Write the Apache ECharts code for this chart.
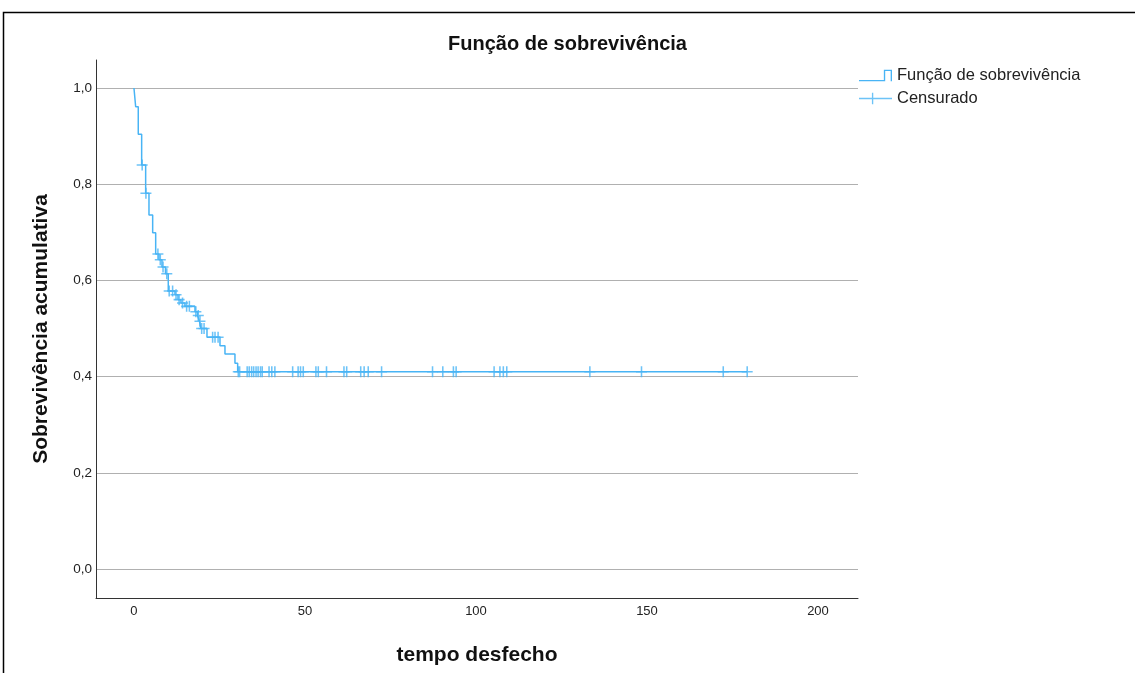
<!DOCTYPE html>
<html>
<head>
<meta charset="utf-8">
<script src="https://cdn.jsdelivr.net/npm/echarts@6/dist/echarts.min.js"></script>
<style>
html,body{margin:0;padding:0;background:#fff;}
#chart{width:1135px;height:673px;}
</style>
</head>
<body>
<div id="chart"></div>
<script>
// ---- data ----
const titleText = 'Função de sobrevivência';
const xAxisName = 'tempo desfecho';
const yAxisName = 'Sobrevivência acumulativa';
const legendNames = ['Função de sobrevivência', 'Censurado'];

// event times at which the survival curve drops, and the survival value after the drop
const stepTimes = [0, 0.5, 1.26, 2.25, 3.42, 4.39, 5.47, 6.35, 7.31, 8.19, 9.21, 10.03, 11.99, 12.87, 13.74, 14.91, 17.84, 18.57, 19.15, 19.59, 21.35, 25.15, 26.61, 29.53, 30.32];
const stepSurvival = [1.0, 0.961, 0.904, 0.840, 0.781, 0.736, 0.699, 0.655, 0.643, 0.628, 0.614, 0.578, 0.570, 0.560, 0.553, 0.546, 0.535, 0.527, 0.515, 0.500, 0.482, 0.464, 0.447, 0.428, 0.410];

// censored observation times
const censorTimes = [2.4, 3.5, 7.0, 7.7, 8.5, 9.6, 10.3, 11.3, 12.3, 13.2, 14.2, 15.4, 16.2, 18.1, 18.8, 19.3, 19.8, 20.5, 23.0, 23.7, 24.6,
  30.5, 30.9, 33.1, 33.7, 34.4, 35.0, 35.7, 36.3, 37.0, 37.5, 39.5, 40.3, 41.2, 46.4, 48.0, 48.7, 49.5, 53.2, 53.9, 56.3,
  61.4, 62.2, 66.3, 67.3, 68.5, 72.4, 87.3, 90.3, 93.4, 94.2, 105.3, 107.0, 108.0, 109.0, 133.3, 148.4, 172.3, 179.3];

const xTicks = [0, 50, 100, 150, 200];
const yTicks = [0, 0.2, 0.4, 0.6, 0.8, 1.0];

// ---- build series data ----
function survivalAt(t) {
  let s = stepSurvival[0];
  for (let i = 0; i < stepTimes.length; i++) { if (stepTimes[i] <= t) s = stepSurvival[i]; }
  return s;
}
const lastTime = censorTimes[censorTimes.length - 1];
const lineData = stepTimes.map((t, i) => [t, stepSurvival[i]]);
lineData.push([lastTime, survivalAt(lastTime)]);
const censorData = censorTimes.map(t => [t, survivalAt(t)]);

const blue = '#48b4f5';
const font = '"Liberation Sans", Arial, sans-serif';
const plusPath = 'path://M0,4.3h10v1.4h-10z M4.3,0h1.4v10h-1.4z';
const stepIcon = 'path://M0,10.5h27v1.4h-27z M25.6,0h1.4v11.9h-1.4z M25.6,0h8.4v1.4h-8.4z M32.6,0h1.4v11.9h-1.4z';
const censorIcon = 'path://M0,5.3h34v1.4h-34z M13.3,0h1.4v12h-1.4z';

const chart = echarts.init(document.getElementById('chart'), null, {renderer: 'canvas'});
chart.setOption({
  backgroundColor: '#fff',
  animation: false,
  title: {
    text: titleText, left: 'center', top: 29,
    textStyle: {fontFamily: font, fontSize: 20, fontWeight: 'bold', color: '#111'}
  },
  legend: {
    orient: 'vertical', left: 859, top: 67, padding: 0, itemWidth: 33, itemHeight: 12, itemGap: 6,
    textStyle: {fontFamily: font, fontSize: 16.5, color: '#222'},
    data: [
      {name: legendNames[0], icon: stepIcon},
      {name: legendNames[1], icon: censorIcon}
    ]
  },
  graphic: [{
    type: 'rect', shape: {x: 3.5, y: 12.5, width: 1200, height: 700},
    style: {fill: 'none', stroke: '#000', lineWidth: 1.5}, silent: true
  }],
  grid: {left: 96, right: 277, top: 60, bottom: 75, containLabel: false},
  xAxis: {
    type: 'value', min: -11.1, max: 211.7,
    name: xAxisName, nameLocation: 'middle', nameGap: 47,
    nameTextStyle: {fontFamily: font, fontSize: 21, fontWeight: 'bold', color: '#111'},
    axisLine: {show: true, onZero: false, lineStyle: {color: '#333', width: 1}},
    axisTick: {show: false, customValues: xTicks},
    axisLabel: {customValues: xTicks, fontFamily: font, fontSize: 13, color: '#222', margin: 7},
    splitLine: {show: false}
  },
  yAxis: {
    type: 'value', min: -0.0603, max: 1.0582,
    name: yAxisName, nameLocation: 'middle', nameGap: 44, nameRotate: 90,
    nameTextStyle: {fontFamily: font, fontSize: 21, fontWeight: 'bold', color: '#111'},
    axisLine: {show: true, onZero: false, lineStyle: {color: '#333', width: 1}},
    axisTick: {show: false, customValues: yTicks},
    axisLabel: {customValues: yTicks, fontFamily: font, fontSize: 13.5, color: '#222', margin: 4,
      formatter: v => v.toFixed(1).replace('.', ',')},
    splitLine: {show: true, lineStyle: {color: '#b0b0b0', width: 1}}
  },
  series: [
    {
      name: legendNames[0], type: 'line', step: 'end', data: lineData,
      showSymbol: false, symbol: 'none', lineStyle: {color: blue, width: 1.5},
      itemStyle: {color: blue}, z: 3
    },
    {
      name: legendNames[1], type: 'scatter', data: censorData,
      symbol: plusPath, symbolSize: 11, itemStyle: {color: blue}, z: 4
    }
  ]
});
</script>
</body>
</html>
